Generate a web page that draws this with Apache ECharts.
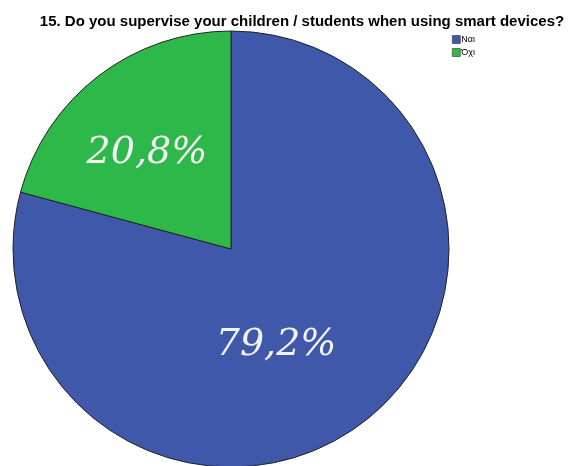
<!DOCTYPE html>
<html>
<head>
<meta charset="utf-8">
<script src="https://cdn.jsdelivr.net/npm/echarts@6/dist/echarts.min.js"></script>
<style>
  html, body { margin: 0; padding: 0; background: #ffffff; }
  #chart { width: 568px; height: 466px; }
</style>
</head>
<body>
<div id="chart"></div>
<script>
// Survey answers and their shares (percent)
const titleText = '15. Do you supervise your children / students when using smart devices?';
const categories = ['Ναι', 'Όχι'];
const shares = [79.2, 20.8];
const sliceColors = ['#3f58aa', '#2fb84a'];
// label nudges (px) from the default inner anchor of each slice
const labelOffsets = [[-23, 7], [-16, -7]];

const chart = echarts.init(document.getElementById('chart'), null, { renderer: 'canvas' });

chart.setOption({
  animation: false,
  backgroundColor: '#ffffff',
  title: {
    text: titleText,
    left: 302,
    textAlign: 'center',
    top: 14,
    padding: 0,
    textStyle: {
      fontFamily: 'Liberation Sans, Arial, sans-serif',
      fontSize: 15,
      fontWeight: 'bold',
      color: '#000000'
    }
  },
  legend: {
    orient: 'vertical',
    left: 452,
    top: 35,
    padding: 0,
    itemWidth: 8,
    itemHeight: 8,
    itemGap: 4,
    icon: 'rect',
    itemStyle: { borderColor: '#333', borderWidth: 0.6 },
    textStyle: {
      fontFamily: 'Liberation Sans, Arial, sans-serif',
      fontSize: 9,
      color: '#000',
      padding: [0, 0, 0, -4]
    },
    data: categories
  },
  series: [{
    type: 'pie',
    center: [231, 249],
    radius: [0, 218],
    startAngle: 90,
    clockwise: true,
    avoidLabelOverlap: false,
    itemStyle: { borderColor: '#222222', borderWidth: 1 },
    label: {
      show: true,
      position: 'inner',
      formatter: p => p.value.toFixed(1).replace('.', ',') + '%',
      fontFamily: 'DejaVu Serif, serif',
      fontStyle: 'italic',
      fontSize: 38,
      color: '#f2f2f2'
    },
    labelLine: { show: false },
    emphasis: { disabled: true },
    data: categories.map((name, i) => ({
      name: name,
      value: shares[i],
      itemStyle: { color: sliceColors[i] },
      label: { offset: labelOffsets[i] }
    }))
  }]
});
</script>
</body>
</html>
